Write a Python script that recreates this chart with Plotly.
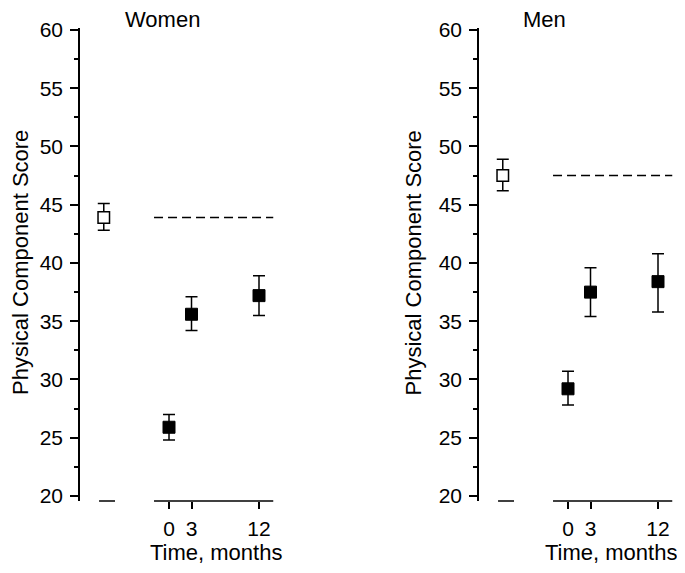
import plotly.graph_objects as go

# data
months = [0, 3, 12]
norm_x = -8.7

women_mean = [25.9, 35.6, 37.2]
women_upper = [27.0, 37.1, 38.9]
women_lower = [24.8, 34.2, 35.5]
women_norm = 43.9
women_norm_upper = 45.1
women_norm_lower = 42.8

men_mean = [29.2, 37.5, 38.4]
men_upper = [30.7, 39.6, 40.8]
men_lower = [27.8, 35.4, 35.8]
men_norm = 47.5
men_norm_upper = 48.9
men_norm_lower = 46.2

# page body has an 8px margin on every side; size the figure so it fits the window
OFF = 8
W, H = 685 - 2 * OFF, 573 - 2 * OFF
FONT = "Liberation Sans, Arial, sans-serif"
Y_RANGE = [19.57, 60.17]
X_RANGE = [-11.87, 14.0]
Y_TOP_PX, Y_BOT_PX = 28, 501


def px_x(p):
    # screen pixel -> paper fraction
    return (p - OFF) / W


def px_y(p):
    return 1 - (p - OFF) / H


fig = go.Figure()

# name, data..., axis ids, title x, y-title x, x-title x
panels = [
    ("Women", women_mean, women_upper, women_lower,
     women_norm, women_norm_upper, women_norm_lower, "x", "y", 162, 20, 216),
    ("Men", men_mean, men_upper, men_lower,
     men_norm, men_norm_upper, men_norm_lower, "x2", "y2", 544, 412.5, 611),
]

for (name, mean, up, lo, nm, nu, nl, xa, ya, tx, ytx, xtx) in panels:
    # follow-up means
    fig.add_trace(go.Scatter(
        x=months, y=mean, mode="markers", xaxis=xa, yaxis=ya,
        marker=dict(symbol="square", size=12, color="black",
                    line=dict(color="black", width=1)),
        error_y=dict(type="data", symmetric=False,
                     array=[u - m for u, m in zip(up, mean)],
                     arrayminus=[m - l for m, l in zip(mean, lo)],
                     color="black", thickness=1.5, width=6),
        showlegend=False, cliponaxis=False,
    ))
    # population norm
    fig.add_trace(go.Scatter(
        x=[norm_x], y=[nm], mode="markers", xaxis=xa, yaxis=ya,
        marker=dict(symbol="square", size=11.5, color="white",
                    line=dict(color="black", width=1.5)),
        error_y=dict(type="data", symmetric=False,
                     array=[nu - nm], arrayminus=[nm - nl],
                     color="black", thickness=1.5, width=6),
        showlegend=False, cliponaxis=False,
    ))
    # norm reference line across follow-up period
    fig.add_trace(go.Scatter(
        x=[-2, 13.9], y=[nm, nm], mode="lines", xaxis=xa, yaxis=ya,
        line=dict(color="black", width=1.5, dash="9px,5px"),
        showlegend=False, hoverinfo="skip",
    ))

    # broken x axis: short stub under norm, main segment under months
    for x0, x1 in [(-9.33, -7.2), (-2, 13.9)]:
        fig.add_shape(type="line", xref=xa, yref="paper",
                      x0=x0, x1=x1, y0=px_y(Y_BOT_PX), y1=px_y(Y_BOT_PX),
                      line=dict(color="black", width=1.5))

    fig.add_annotation(text=name, x=px_x(tx), y=px_y(19),
                       xref="paper", yref="paper",
                       showarrow=False, xanchor="center", yanchor="middle",
                       font=dict(size=22, color="black", family=FONT))
    fig.add_annotation(text="Physical Component Score", x=px_x(ytx), y=px_y(263),
                       xref="paper", yref="paper", textangle=-90,
                       showarrow=False, xanchor="center", yanchor="middle",
                       font=dict(size=22, color="black", family=FONT))
    fig.add_annotation(text="Time, months", x=px_x(xtx), y=px_y(552),
                       xref="paper", yref="paper",
                       showarrow=False, xanchor="center", yanchor="middle",
                       font=dict(size=22, color="black", family=FONT))

x_common = dict(range=X_RANGE, tickvals=months, ticktext=[str(m) for m in months],
                ticks="outside", ticklen=7, tickwidth=1.5, tickcolor="black",
                showline=False, showgrid=False, zeroline=False, automargin=False,
                ticklabelstandoff=2,
                tickfont=dict(size=21, color="black", family=FONT))
y_common = dict(range=Y_RANGE, tick0=20, dtick=5,
                ticks="outside", ticklen=8, tickwidth=1.5, tickcolor="black",
                minor=dict(dtick=2.5, tick0=20, ticks="outside", ticklen=4,
                           tickwidth=1.5, tickcolor="black"),
                showline=True, linecolor="black", linewidth=1.5,
                showgrid=False, zeroline=False, automargin=False,
                ticklabelstandoff=3,
                tickfont=dict(size=21, color="black", family=FONT))

ydom = [px_y(Y_BOT_PX), px_y(Y_TOP_PX)]

fig.update_layout(
    width=W, height=H,
    margin=dict(l=0, r=0, t=0, b=0),
    paper_bgcolor="white", plot_bgcolor="white",
    font=dict(family=FONT, color="black", size=21),
    xaxis=dict(domain=[px_x(80), px_x(274)], anchor="y", **x_common),
    yaxis=dict(domain=ydom, anchor="x", **y_common),
    xaxis2=dict(domain=[px_x(479), px_x(673)], anchor="y2", **x_common),
    yaxis2=dict(domain=ydom, anchor="x2", **y_common),
    showlegend=False,
)

fig.write_html("out.html")
